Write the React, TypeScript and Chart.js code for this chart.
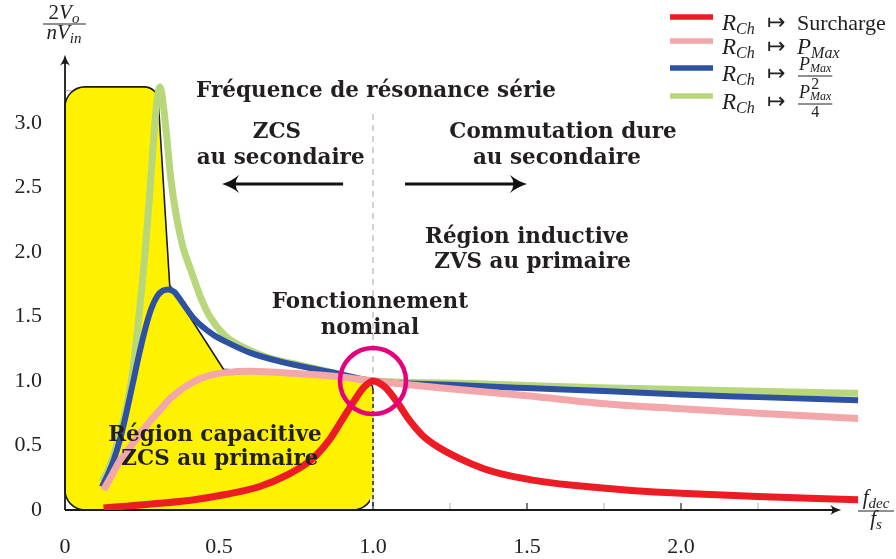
import React, { useEffect, useRef } from "react";
import { Chart, registerables } from "chart.js";
Chart.register(...registerables);

// ---------- data ----------
const surchargeX = [0.125, 0.2, 0.3, 0.42, 0.52, 0.63, 0.72, 0.8, 0.86, 0.9, 0.94, 0.97, 1.0, 1.04, 1.08, 1.12, 1.16, 1.21, 1.28, 1.36, 1.435, 1.55, 1.7, 1.85, 2.0, 2.25, 2.575];
const surchargeY = [0.015, 0.03, 0.05, 0.08, 0.12, 0.18, 0.27, 0.39, 0.55, 0.7, 0.85, 0.95, 1.0, 0.95, 0.83, 0.69, 0.58, 0.49, 0.4, 0.32, 0.27, 0.22, 0.18, 0.15, 0.13, 0.105, 0.08];

const pmaxX = [0.125, 0.15, 0.175, 0.2, 0.225, 0.25, 0.28, 0.31, 0.34, 0.37, 0.4, 0.44, 0.48, 0.52, 0.6, 0.74, 0.9, 1.0, 1.25, 1.5, 1.77, 2.0, 2.25, 2.575];
const pmaxY = [0.155, 0.26, 0.37, 0.45, 0.53, 0.61, 0.7, 0.78, 0.86, 0.92, 0.97, 1.02, 1.05, 1.065, 1.075, 1.06, 1.03, 1.0, 0.94, 0.885, 0.82, 0.785, 0.75, 0.71];

const halfX = [0.12, 0.14, 0.16, 0.18, 0.2, 0.22, 0.24, 0.26, 0.28, 0.3, 0.318, 0.335, 0.355, 0.38, 0.42, 0.48, 0.535, 0.6, 0.7, 0.86, 1.0, 1.25, 1.5, 1.77, 2.0, 2.25, 2.575];
const halfY = [0.18, 0.28, 0.4, 0.56, 0.76, 0.98, 1.2, 1.4, 1.56, 1.66, 1.7, 1.71, 1.69, 1.61, 1.48, 1.36, 1.29, 1.22, 1.15, 1.07, 1.0, 0.97, 0.945, 0.92, 0.895, 0.875, 0.85];

const quarterX = [0.12, 0.14, 0.16, 0.18, 0.2, 0.22, 0.24, 0.26, 0.275, 0.29, 0.3, 0.308, 0.316, 0.33, 0.344, 0.36, 0.383, 0.41, 0.44, 0.47, 0.52, 0.58, 0.66, 0.75, 0.86, 1.0, 1.25, 1.5, 1.77, 2.0, 2.25, 2.575];
const quarterY = [0.22, 0.31, 0.44, 0.6, 0.8, 1.08, 1.5, 2.0, 2.45, 2.95, 3.2, 3.28, 3.2, 2.9, 2.56, 2.3, 2.04, 1.85, 1.65, 1.5, 1.35, 1.26, 1.18, 1.13, 1.07, 1.0, 0.985, 0.965, 0.945, 0.935, 0.92, 0.905];

// capacitive region outline (data units)
const regionX = [0, 0, 0.3, 0.34, 0.515, 0.6, 0.74, 0.9, 1.0, 1.0];
const regionY = [0, 3.28, 3.28, 1.74, 1.09, 1.075, 1.06, 1.03, 1.0, 0];

const xTickValues = [0, 0.5, 1.0, 1.5, 2.0];
const xTickLabels = ["0", "0.5", "1.0", "1.5", "2.0"];
const xMinorTicks = [0.25, 0.75, 1.25, 1.75, 2.25];
const yTickValues = [0, 0.5, 1.0, 1.5, 2.0, 2.5, 3.0];
const yTickLabels = ["0", "0.5", "1.0", "1.5", "2.0", "2.5", "3.0"];
const yMinorTicks = [0.25, 0.75, 1.25, 1.75, 2.25, 2.75, 3.25];

const seriesNames = ["Surcharge", "P_Max", "P_Max/2", "P_Max/4"];
const seriesColors = ["#ed1c24", "#f4a7aa", "#2e52a1", "#b7d77a"];

const noteTexts = ["Fréquence de résonance série", "ZCS", "au secondaire", "Commutation dure", "au secondaire", "Région inductive", "ZVS au primaire", "Fonctionnement", "nominal", "Région capacitive", "ZCS au primaire"];
const noteX = [1.01, 0.688, 0.7, 1.617, 1.597, 1.5, 1.518, 0.99, 0.99, 0.487, 0.503];
const noteY = [3.248, 2.93, 2.729, 2.93, 2.729, 2.116, 1.922, 1.612, 1.411, 0.581, 0.395];

const arrowFromX = [0.903, 1.104];
const arrowToX = [0.51, 1.5];
const arrowY = [2.527, 2.527];

const nominalX = 1.0;
const nominalY = 1.0;

const pts = (xs: number[], ys: number[]) => xs.map((x, i) => ({ x, y: ys[i] }));

function arrowHead(ctx: CanvasRenderingContext2D, x: number, y: number, ang: number, len: number, hw: number) {
  ctx.save();
  ctx.translate(x, y);
  ctx.rotate(ang);
  ctx.beginPath();
  ctx.moveTo(0, 0);
  ctx.quadraticCurveTo(-len * 0.5, hw * 0.25, -len, hw);
  ctx.quadraticCurveTo(-len * 0.6, 0, -len, -hw);
  ctx.quadraticCurveTo(-len * 0.5, -hw * 0.25, 0, 0);
  ctx.closePath();
  ctx.fill();
  ctx.restore();
}

type Part = [string, number, boolean, number];
function rich(ctx: CanvasRenderingContext2D, x: number, y: number, parts: Part[]) {
  let cx = x;
  for (const [t, size, italic, dy] of parts) {
    ctx.font = `${italic ? "italic " : ""}${size}px "Liberation Serif", "DejaVu Serif", serif`;
    ctx.fillText(t, cx, y + dy);
    cx += ctx.measureText(t).width;
  }
  return cx - x;
}
function richWidth(ctx: CanvasRenderingContext2D, parts: Part[]) {
  let w = 0;
  for (const [t, size, italic] of parts) {
    ctx.font = `${italic ? "italic " : ""}${size}px "Liberation Serif", "DejaVu Serif", serif`;
    w += ctx.measureText(t).width;
  }
  return w;
}

const decorPlugin = {
  id: "decor",
  beforeDatasetsDraw(chart: any) {
    const ctx: CanvasRenderingContext2D = chart.ctx;
    const xs = chart.scales.x, ys = chart.scales.y;
    const px = (v: number) => xs.getPixelForValue(v);
    const py = (v: number) => ys.getPixelForValue(v);
    ctx.save();
    // ticks
    ctx.lineWidth = 1.2;
    for (const v of xMinorTicks) {
      ctx.strokeStyle = "#bbbbbb";
      ctx.beginPath(); ctx.moveTo(px(v), py(0)); ctx.lineTo(px(v), py(0) - 7); ctx.stroke();
    }
    for (const v of xTickValues.slice(1)) {
      ctx.strokeStyle = "#222";
      ctx.beginPath(); ctx.moveTo(px(v), py(0)); ctx.lineTo(px(v), py(0) - 7); ctx.stroke();
    }
    for (const v of yMinorTicks) {
      ctx.strokeStyle = "#bbbbbb";
      ctx.beginPath(); ctx.moveTo(px(0), py(v)); ctx.lineTo(px(0) + 7, py(v)); ctx.stroke();
    }
    for (const v of yTickValues.slice(1)) {
      ctx.strokeStyle = "#222";
      ctx.beginPath(); ctx.moveTo(px(0), py(v)); ctx.lineTo(px(0) + 7, py(v)); ctx.stroke();
    }
    // gray dashed line at resonance
    ctx.strokeStyle = "#c4c4c4";
    ctx.lineWidth = 1.5;
    ctx.setLineDash([6, 5]);
    ctx.beginPath(); ctx.moveTo(px(nominalX), py(3.07)); ctx.lineTo(px(nominalX), py(0)); ctx.stroke();
    ctx.setLineDash([]);

    // yellow region
    const P = regionX.map((x, i) => ({ x: px(x), y: py(regionY[i]) }));
    const radii = [20, 20, 14, 0, 0, 0, 0, 0, 10, 20];
    const path = new Path2D();
    const n = P.length;
    path.moveTo((P[n - 1].x + P[0].x) / 2, (P[n - 1].y + P[0].y) / 2);
    for (let i = 0; i < n; i++) {
      const p = P[i], q = P[(i + 1) % n];
      if (radii[i] > 0) path.arcTo(p.x, p.y, q.x, q.y, radii[i]);
      else path.lineTo(p.x, p.y);
    }
    path.closePath();
    ctx.fillStyle = "#fff200";
    ctx.fill(path);
    // outline (solid except right edge)
    ctx.save();
    const clip = new Path2D();
    clip.rect(0, 0, chart.width, chart.height);
    clip.rect(px(1) - 3, py(0.93), 6, py(0.0) - py(0.93));
    ctx.clip(clip, "evenodd");
    ctx.strokeStyle = "#1a1a1a";
    ctx.lineWidth = 1.6;
    ctx.stroke(path);
    ctx.restore();
    ctx.strokeStyle = "#1a1a1a";
    ctx.lineWidth = 1.4;
    ctx.setLineDash([4, 3]);
    ctx.beginPath(); ctx.moveTo(px(1), py(0.93)); ctx.lineTo(px(1), py(0)); ctx.stroke();
    ctx.setLineDash([]);

    // axes
    ctx.strokeStyle = "#1a1a1a";
    ctx.fillStyle = "#1a1a1a";
    ctx.lineWidth = 1.8;
    ctx.beginPath(); ctx.moveTo(px(0), py(0)); ctx.lineTo(px(2.5), py(0)); ctx.stroke();
    arrowHead(ctx, px(2.52), py(0), 0, 11, 5);
    ctx.beginPath(); ctx.moveTo(px(0), py(0)); ctx.lineTo(px(0), py(3.5)); ctx.stroke();
    arrowHead(ctx, px(0), py(3.53), -Math.PI / 2, 11, 5);
    ctx.restore();
  },
  afterDatasetsDraw(chart: any) {
    const ctx: CanvasRenderingContext2D = chart.ctx;
    const xs = chart.scales.x, ys = chart.scales.y;
    const px = (v: number) => xs.getPixelForValue(v);
    const py = (v: number) => ys.getPixelForValue(v);
    ctx.save();
    // nominal circle
    ctx.strokeStyle = "#e5007e";
    ctx.lineWidth = 4.5;
    ctx.beginPath(); ctx.arc(px(nominalX), py(nominalY), 33, 0, Math.PI * 2); ctx.stroke();

    // annotation texts
    ctx.fillStyle = "#231f20";
    ctx.font = 'bold 100px "DejaVu Serif", serif';
    const w100 = ctx.measureText(noteTexts[0]).width;
    const fs = (360 / w100) * 100;
    ctx.font = `bold ${fs.toFixed(2)}px "DejaVu Serif", serif`;
    ctx.textAlign = "center";
    ctx.textBaseline = "middle";
    noteTexts.forEach((t, i) => ctx.fillText(t, px(noteX[i]), py(noteY[i])));

    // arrows
    ctx.strokeStyle = "#111";
    ctx.fillStyle = "#111";
    ctx.lineWidth = 3;
    arrowFromX.forEach((fx, i) => {
      const tx = arrowToX[i];
      const dir = tx > fx ? 1 : -1;
      ctx.beginPath(); ctx.moveTo(px(fx), py(arrowY[i])); ctx.lineTo(px(tx) - dir * 8, py(arrowY[i])); ctx.stroke();
      arrowHead(ctx, px(tx), py(arrowY[i]), dir > 0 ? 0 : Math.PI, 17, 9);
    });

    // tick labels
    ctx.fillStyle = "#222";
    ctx.font = '22px "Liberation Serif", serif';
    ctx.textAlign = "center";
    ctx.textBaseline = "middle";
    xTickValues.forEach((v, i) => ctx.fillText(xTickLabels[i], px(v), py(0) + 37));
    ctx.textAlign = "right";
    yTickValues.forEach((v, i) => ctx.fillText(yTickLabels[i], 42, py(v)));

    // legend
    ctx.textAlign = "left";
    ctx.textBaseline = "alphabetic";
    const lineY = [17, 41, 68, 96];
    seriesColors.forEach((c, i) => {
      ctx.strokeStyle = c;
      ctx.lineWidth = 5.5;
      ctx.beginPath(); ctx.moveTo(670, lineY[i]); ctx.lineTo(713, lineY[i]); ctx.stroke();
      const base = lineY[i] + 13;
      ctx.fillStyle = "#222";
      rich(ctx, 722, base, [["R", 23, true, 0], ["Ch", 16, true, 4]]);
      ctx.font = '22px "DejaVu Sans", sans-serif';
      ctx.fillText("\u21A6", 767, base - 1);
      if (i === 0) {
        rich(ctx, 797, base, [[seriesNames[0], 22, false, 0]]);
      } else if (i === 1) {
        rich(ctx, 797, base, [["P", 23, true, 0], ["Max", 16, true, 4]]);
      } else {
        const bar = lineY[i] + 8;
        const num: Part[] = [["P", 18, true, 0], ["Max", 12, true, 2]];
        const wn = richWidth(ctx, num);
        rich(ctx, 799, bar - 6, num);
        ctx.strokeStyle = "#222";
        ctx.lineWidth = 1;
        ctx.beginPath(); ctx.moveTo(798, bar); ctx.lineTo(799 + wn + 1, bar); ctx.stroke();
        ctx.font = '16px "Liberation Serif", serif';
        ctx.textAlign = "center";
        ctx.fillText(i === 2 ? "2" : "4", 799 + wn / 2, bar + 13);
        ctx.textAlign = "left";
      }
    });

    // y axis title
    ctx.fillStyle = "#222";
    const yNum: Part[] = [["2", 21, false, 0], ["V", 21, true, 0], ["o", 15, true, 4]];
    const yDen: Part[] = [["n", 21, true, 0], ["V", 21, true, 0], ["in", 15, true, 4]];
    const cxT = 64;
    rich(ctx, cxT - richWidth(ctx, yNum) / 2, 19, yNum);
    rich(ctx, cxT - richWidth(ctx, yDen) / 2, 39, yDen);
    ctx.strokeStyle = "#222";
    ctx.lineWidth = 1;
    ctx.beginPath(); ctx.moveTo(43, 24); ctx.lineTo(86, 24); ctx.stroke();

    // x axis title
    const xNum: Part[] = [["f", 21, true, 0], ["dec", 15, true, 4]];
    const xDen: Part[] = [["f", 21, true, 0], ["s", 15, true, 4]];
    const cxX = 876;
    rich(ctx, cxX - richWidth(ctx, xNum) / 2, 504, xNum);
    rich(ctx, cxX - richWidth(ctx, xDen) / 2, 525, xDen);
    ctx.beginPath(); ctx.moveTo(858, 511); ctx.lineTo(894, 511); ctx.stroke();
    ctx.restore();
  },
};

export default function App() {
  const ref = useRef<HTMLCanvasElement>(null);
  useEffect(() => {
    const canvas = ref.current!;
    const series = [pts(surchargeX, surchargeY), pts(pmaxX, pmaxY), pts(halfX, halfY), pts(quarterX, quarterY)];
    const widths = [7, 7, 6, 7];
    const chart = new Chart(canvas, {
      type: "line",
      data: {
        datasets: series.map((d, i) => ({
          label: seriesNames[i],
          data: d,
          borderColor: seriesColors[i],
          backgroundColor: seriesColors[i],
          borderWidth: widths[i],
          pointRadius: 0,
          fill: false,
          cubicInterpolationMode: "monotone" as const,
          borderCapStyle: "butt" as const,
          borderJoinStyle: "round" as const,
        })),
      },
      options: {
        animation: false,
        responsive: false,
        events: [],
        layout: { padding: { left: 65, right: 896 - (65 + 2.6 * 308), top: 510 - 3.55 * 129, bottom: 49 } },
        scales: {
          x: { type: "linear", min: 0, max: 2.6, display: false },
          y: { type: "linear", min: 0, max: 3.55, display: false },
        },
        plugins: { legend: { display: false }, tooltip: { enabled: false } },
      },
      plugins: [decorPlugin],
    });
    return () => chart.destroy();
  }, []);
  return (
    <div style={{ position: "absolute", left: 0, top: 0, width: 896, height: 559, background: "#fff" }}>
      <canvas ref={ref} width={896} height={559} style={{ display: "block", width: 896, height: 559 }} />
    </div>
  );
}
